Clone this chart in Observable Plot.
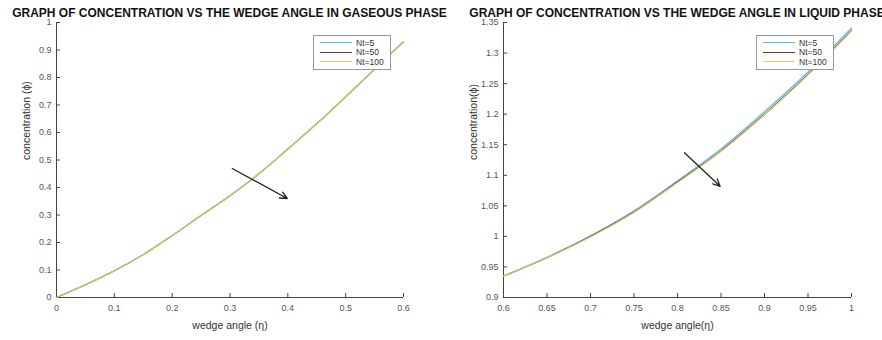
<!DOCTYPE html>
<html>
<head>
<meta charset="utf-8">
<script src="https://cdn.jsdelivr.net/npm/d3@7"></script>
<script src="https://cdn.jsdelivr.net/npm/@observablehq/plot@0.6"></script>
<style>
  html, body { margin: 0; padding: 0; background: #fff; }
  body { width: 882px; height: 340px; overflow: hidden; position: relative; font-family: "Liberation Sans", Arial, sans-serif; }
  .panel { position: absolute; top: 0; width: 441px; height: 340px; }
  .title { position: absolute; top: 7px; transform: translateX(-50%); white-space: nowrap; font-weight: bold; font-size: 12px; line-height: 12px; color: #111; }
  .legend { position: absolute; background: #fff; border: 1px solid #999; font-size: 8.5px; color: #333; padding: 2px 6px 2px 6px; }
  .legend .row { display: flex; align-items: center; height: 9.5px; }
  .legend .sw { width: 32px; height: 1px; margin-right: 4px; }
</style>
</head>
<body>
<script>
// ---------- data ----------
const seriesNames = ["Nt=5", "Nt=50", "Nt=100"];
const seriesColors = ["#4dbeee", "#8a2a2a", "#ddd36a"];

// Gaseous phase
const gasEta   = [0, 0.05, 0.1, 0.15, 0.2, 0.25, 0.3, 0.35, 0.4, 0.45, 0.5, 0.55, 0.6];
const gasNt5   = [0, 0.046, 0.097, 0.156, 0.225, 0.298, 0.370, 0.450, 0.540, 0.632, 0.730, 0.830, 0.930];
const gasNt50  = [0, 0.046, 0.097, 0.156, 0.225, 0.298, 0.370, 0.450, 0.540, 0.632, 0.730, 0.830, 0.930];
const gasNt100 = [0, 0.046, 0.097, 0.156, 0.225, 0.298, 0.370, 0.450, 0.540, 0.632, 0.730, 0.830, 0.930];
const gasXTicks = [0, 0.1, 0.2, 0.3, 0.4, 0.5, 0.6];
const gasYTicks = [0, 0.1, 0.2, 0.3, 0.4, 0.5, 0.6, 0.7, 0.8, 0.9, 1];
const gasArrow = [[0.304, 0.469, 0.399, 0.360]];

// Liquid phase
const liqEta   = [0.6, 0.65, 0.7, 0.75, 0.8, 0.85, 0.9, 0.95, 1.0];
const liqNt5   = [0.935, 0.966, 1.001, 1.042, 1.091, 1.143, 1.204, 1.269, 1.341];
const liqNt50  = [0.935, 0.965, 1.000, 1.040, 1.089, 1.140, 1.200, 1.265, 1.337];
const liqNt100 = [0.935, 0.965, 0.999, 1.039, 1.088, 1.139, 1.199, 1.264, 1.336];
const liqXTicks = [0.6, 0.65, 0.7, 0.75, 0.8, 0.85, 0.9, 0.95, 1];
const liqYTicks = [0.9, 0.95, 1, 1.05, 1.1, 1.15, 1.2, 1.25, 1.3, 1.35];
const liqArrow = [[0.808, 1.137, 0.849, 1.082]];

function table(eta, cols) {
  const rows = [];
  cols.forEach((vals, k) => eta.forEach((x, i) => rows.push({eta: x, c: vals[i], s: seriesNames[k]})));
  return rows;
}

const fmt = d3.format("~g");

function makePlot({data, xDomain, yDomain, xTicks, yTicks, arrow, xLabel, yLabel, marginLeft, marginRight}) {
  return Plot.plot({
    width: 441, height: 340,
    marginTop: 22, marginBottom: 43, marginLeft, marginRight,
    style: {fontFamily: "Liberation Sans, Arial, sans-serif", color: "#555", background: "transparent", overflow: "visible"},
    x: {domain: xDomain},
    y: {domain: yDomain},
    color: {domain: seriesNames, range: seriesColors},
    marks: [
      Plot.axisX({ticks: xTicks, tickFormat: fmt, tickSize: -4, tickPadding: 11, fontSize: 9, label: null, stroke: "#444"}),
      Plot.axisY({ticks: yTicks, tickFormat: fmt, tickSize: -4, tickPadding: 9, fontSize: 9, label: null, stroke: "#444"}),
      Plot.ruleX([xDomain[0]], {stroke: "#444"}),
      Plot.ruleY([yDomain[0]], {stroke: "#444"}),
      Plot.line(data, {x: "eta", y: "c", stroke: "s", z: "s", strokeWidth: 1.1, curve: "monotone-x"}),
      Plot.arrow(arrow, {x1: d => d[0], y1: d => d[1], x2: d => d[2], y2: d => d[3], stroke: "#222", strokeWidth: 1.3, headLength: 9, headAngle: 50, bend: false}),
      Plot.text([xLabel], {frameAnchor: "bottom", dy: 31, fontSize: 10.5, fill: "#333"}),
      Plot.text([yLabel], {frameAnchor: "left", dx: -30, rotate: -90, fontSize: 10.5, fill: "#333"})
    ]
  });
}

function addPanel(left, plot, title, titleX, legendPos) {
  const p = document.createElement("div");
  p.className = "panel";
  p.style.left = left + "px";
  p.appendChild(plot);
  document.body.appendChild(p);
  const t = document.createElement("div");
  t.className = "title";
  t.style.left = titleX + "px";
  t.textContent = title;
  document.body.appendChild(t);
  const lg = document.createElement("div");
  lg.className = "legend";
  lg.style.left = legendPos[0] + "px";
  lg.style.top = legendPos[1] + "px";
  seriesNames.forEach((n, i) => {
    const r = document.createElement("div");
    r.className = "row";
    const sw = document.createElement("div");
    sw.className = "sw";
    sw.style.background = seriesColors[i];
    const tx = document.createElement("span");
    tx.textContent = n;
    r.appendChild(sw); r.appendChild(tx);
    lg.appendChild(r);
  });
  document.body.appendChild(lg);
}

const gasPlot = makePlot({
  data: table(gasEta, [gasNt5, gasNt50, gasNt100]),
  xDomain: [0, 0.6], yDomain: [0, 1], xTicks: gasXTicks, yTicks: gasYTicks, arrow: gasArrow,
  xLabel: "wedge angle (η)", yLabel: "concentration (ϕ)", marginLeft: 56, marginRight: 38
});
const liqPlot = makePlot({
  data: table(liqEta, [liqNt5, liqNt50, liqNt100]),
  xDomain: [0.6, 1], yDomain: [0.9, 1.35], xTicks: liqXTicks, yTicks: liqYTicks, arrow: liqArrow,
  xLabel: "wedge angle(η)", yLabel: "concentration(ϕ)", marginLeft: 62, marginRight: 31
});

addPanel(0, gasPlot, "GRAPH OF CONCENTRATION VS THE WEDGE ANGLE IN GASEOUS PHASE", 229.5, [313, 35]);
addPanel(441, liqPlot, "GRAPH OF CONCENTRATION VS THE WEDGE ANGLE IN LIQUID PHASE", 677, [756, 35]);
</script>
</body>
</html>
